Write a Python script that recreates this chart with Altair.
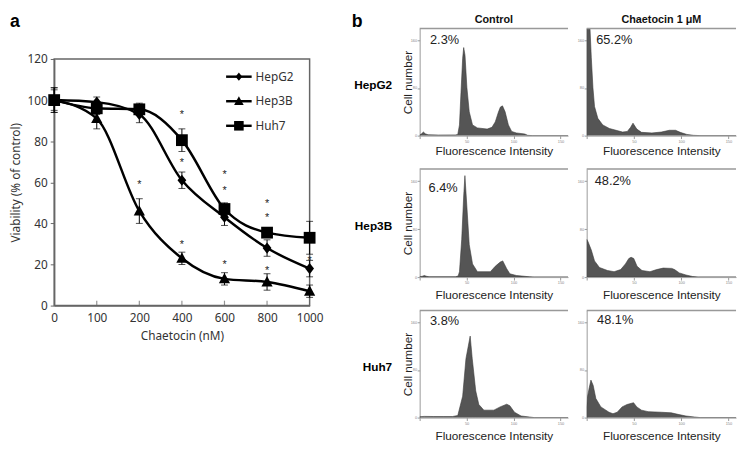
import altair as alt
import pandas as pd

# ---------------- Panel a data ----------------
doses = ["0", "100", "200", "400", "600", "800", "1000"]
series_names = ["HepG2", "Hep3B", "Huh7"]
hepg2 = [100, 99, 93, 61, 43, 28, 18]
hepg2_err = [6, 2.5, 4, 4, 4, 4, 4]
hep3b = [100, 91, 46, 23, 13, 11.5, 7]
hep3b_err = [6, 5, 6, 3, 3, 4, 3]
huh7 = [100, 96, 95.5, 80.5, 47, 35.5, 33]
huh7_err = [5, 3, 3, 5.5, 3, 2, 8]
star_dose = ["200", "400", "400", "400", "600", "600", "600", "800", "800", "800", "1000"]
star_val = [60, 94, 71, 31, 65, 57, 21, 51, 44, 18, 23]
y_ticks_a = [0, 20, 40, 60, 80, 100, 120]

# ---------------- Panel b data (flow cytometry histograms) ----------------
fi_ticks = [0, 12.5, 25, 37.5, 50, 62.5, 75, 87.5, 100, 112.5, 125, 137.5, 150]
count_ticks = [0, 20, 40, 60, 80, 100, 120, 140, 160, 180]

hepg2_ctrl_x = [0, 2, 4, 6, 9, 20, 38, 40.6, 42.4, 44, 45.8, 46.9, 48.3, 50.3, 52.8, 56.3, 61.5, 71.9, 77, 80.5,
                84, 86, 88.2, 91, 94.5, 98, 103, 112, 115, 120, 158]
hepg2_ctrl_y = [1, 3, 6, 3, 1.5, 1, 1.2, 2, 18, 72, 130, 148, 135, 81, 40, 18, 13, 11, 14, 23,
                40, 48, 50, 40, 18, 7, 4.5, 2.7, 0.5, 0, 0]
hepg2_chae_x = [0, 1, 3, 4.9, 6.6, 8.3, 11.8, 17, 24, 31, 38, 43, 46.5, 49, 53, 58, 69, 79, 87.5, 94,
                99, 106, 113, 120, 158]
hepg2_chae_y = [234, 234, 198, 131, 81, 49, 29, 18, 12, 9, 6, 7, 14, 21, 11, 5.5, 4.5, 6, 9, 9,
                5.5, 2, 0.5, 0, 0]
hep3b_ctrl_x = [0, 3, 5, 7, 10, 38, 41, 42.4, 44.8, 46.9, 48.2, 50.3, 52.8, 56.3, 61.5, 75.3, 80.5, 85.8,
                88.5, 92.7, 96, 103, 117, 122, 158]
hep3b_ctrl_y = [0.5, 1.5, 2.7, 1.5, 0.5, 0.5, 1.8, 9, 63, 135, 169, 117, 54, 22, 9, 9, 18, 25,
                27, 14, 5.5, 2.7, 0.5, 0, 0]
hep3b_chae_x = [0, 1.4, 4.9, 8.3, 13.5, 22, 29, 36, 41, 44.6, 47, 49.8, 53.3, 58.5, 67, 74, 81, 90, 93,
                98, 105, 112, 118, 158]
hep3b_chae_y = [63, 59, 45, 27, 16, 11, 9, 12.5, 22, 31, 33, 31, 18, 11, 9, 12.5, 15, 14.5, 12.5,
                7, 3.5, 1, 0, 0]
huh7_ctrl_x = [0, 5, 15, 25, 35, 40.6, 45.8, 49.3, 53.8, 56, 59.7, 63, 68.4, 79, 85.7, 92.7, 96, 101,
               108, 117, 122, 158]
huh7_ctrl_y = [1.5, 2, 1.8, 1.8, 1.8, 3.5, 36, 99, 137, 99, 45, 22, 12.5, 12.5, 18, 22.5, 20, 9,
               2.7, 1, 0, 0]
huh7_chae_x = [0, 1, 2.7, 4.5, 6.9, 9.7, 15, 23.6, 27.8, 32.3, 37.5, 42.7, 49.6, 53, 58, 65, 79, 89.5,
               96.4, 105, 114, 120, 158]
huh7_chae_y = [18, 36, 50, 63, 54, 32, 18, 9, 6.5, 9, 18, 22, 25, 18, 12.5, 10, 9, 8, 5.5, 2.7,
               1, 0, 0]

pct_labels = ["2.3%", "65.2%", "6.4%", "48.2%", "3.8%", "48.1%"]
pct_x = [11, 10, 9.5, 8.5, 11, 11]
pct_y = [160, 160, 149, 160, 162, 164]
row_labels = ["HepG2", "Hep3B", "Huh7"]
col_titles = ["Control", "Chaetocin 1 \u03bcM"]

FONT_A = "Noto Sans"
FONT_B = "Liberation Sans"

# ---------------- Panel a ----------------
rows = []
for name, vals, errs in zip(series_names, [hepg2, hep3b, huh7], [hepg2_err, hep3b_err, huh7_err]):
    for i, (d, v, e) in enumerate(zip(doses, vals, errs)):
        rows.append(dict(series=name, dose=d, idx=i, value=v, lo=v - e, hi=v + e))
df_a = pd.DataFrame(rows)
df_star = pd.DataFrame({"dose": star_dose, "val": star_val})
df_xt = pd.DataFrame({"dose": doses[1:-1]})

marker_paths = [
    "M0,-0.95L0.75,0L0,0.95L-0.75,0Z",
    "M0,-1L0.95,0.75L-0.95,0.75Z",
    "M-1,-1H1V1H-1Z",
]
legend_marker_sizes = [80, 105, 95]

x_a = alt.X("dose:O", sort=doses, scale=alt.Scale(type="point", padding=0),
            axis=alt.Axis(labelAngle=0, ticks=False, labelPadding=7, titlePadding=8,
                          title="Chaetocin (nM)", labelFont=FONT_A, titleFont=FONT_A,
                          labelFontSize=12, titleFontSize=12, titleFontWeight="normal",
                          labelColor="#333", titleColor="#333", domainColor="#666",
                          domainWidth=1.5))
y_scale_a = alt.Scale(domain=[0, 120], nice=False)
y_a = alt.Y("value:Q", scale=y_scale_a,
            axis=alt.Axis(values=y_ticks_a, title="Viability (% of control)", titlePadding=5,
                          labelFont=FONT_A, titleFont=FONT_A, labelFontSize=12, titleFontSize=12,
                          titleFontWeight="normal", labelColor="#333", titleColor="#333",
                          tickSize=4, labelPadding=3, grid=False, domainColor="#666",
                          tickColor="#666", domainWidth=1.5))

base = alt.Chart(df_a).encode(x=x_a)
err_rule = base.mark_rule(color="black", strokeWidth=1).encode(
    y=alt.Y("lo:Q", scale=y_scale_a), y2="hi:Q", detail="series:N")
cap_lo = base.mark_tick(orient="horizontal", color="black", thickness=1, size=7).encode(
    y=alt.Y("lo:Q", scale=y_scale_a))
cap_hi = base.mark_tick(orient="horizontal", color="black", thickness=1, size=7).encode(
    y=alt.Y("hi:Q", scale=y_scale_a))
line = base.mark_line(interpolate="monotone", color="black", strokeWidth=2.5).encode(
    y=y_a, detail="series:N", order="idx:Q")
points = base.mark_point(filled=True, size=144, color="black", opacity=1, strokeWidth=0).encode(
    y=alt.Y("value:Q", scale=y_scale_a),
    shape=alt.Shape("series:N", scale=alt.Scale(domain=series_names, range=marker_paths),
                    legend=None))
stars = alt.Chart(df_star).mark_text(text="*", fontSize=11, color="#222", dy=3).encode(
    x=alt.X("dose:O", sort=doses), y=alt.Y("val:Q", scale=y_scale_a))
xticks_in = alt.Chart(df_xt).mark_tick(orient="vertical", size=5, thickness=1.2, color="#666",
                                       yOffset=-2.5).encode(
    x=alt.X("dose:O", sort=doses), y=alt.datum(0))
label_a = alt.Chart(pd.DataFrame({"t": ["a"]})).mark_text(
    fontSize=18, fontWeight="bold", align="left", baseline="middle", font="Liberation Sans",
    color="black").encode(text="t:N", x=alt.value(-45), y=alt.value(-38))

# in-plot legend: line stub + marker + label for each series
legend_layers = []
for i, name in enumerate(series_names):
    ly = 18 + 25 * i
    src = alt.Chart(pd.DataFrame({"t": [name]}))
    legend_layers.append(src.mark_rule(color="black", strokeWidth=2.5).encode(
        x=alt.value(175), x2=alt.value(201), y=alt.value(ly)))
    legend_layers.append(src.mark_point(shape=marker_paths[i], size=legend_marker_sizes[i], filled=True,
                                        color="black", opacity=1, strokeWidth=0).encode(
        x=alt.value(188), y=alt.value(ly)))
    legend_layers.append(src.mark_text(align="left", baseline="middle", fontSize=12, font=FONT_A,
                                       color="#333").encode(
        text="t:N", x=alt.value(205), y=alt.value(ly)))

panel_a = alt.layer(line, err_rule, cap_lo, cap_hi, points, stars, xticks_in, label_a,
                    *legend_layers).properties(
    width=260, height=251, view=alt.ViewBackground(stroke="#666", strokeWidth=1.5))

# empty spacer that lowers panel a relative to the first row of panel b
spacer = alt.Chart(pd.DataFrame({"t": [0]})).mark_point(opacity=0).encode(
    x=alt.value(0), y=alt.value(0)).properties(width=260, height=31)
panel_a_wrapped = alt.vconcat(spacer, panel_a, spacing=0, bounds="flush")


# ---------------- Panel b ----------------
def make_hist(xs, ys, k, ctrl, row, height, width):
    df_h = pd.DataFrame({"fi": xs, "count": ys})
    x_h = alt.X("fi:Q", scale=alt.Scale(domain=[0, 158], nice=False),
                axis=alt.Axis(values=fi_ticks,
                              labelExpr="datum.value % 50 === 0 && datum.value > 0 ? datum.label : ''",
                              labelFontSize=4, labelColor="#888", tickSize=3, tickColor="#999",
                              domainColor="#999", labelPadding=1, title="Fluorescence Intensity",
                              titleFontSize=12, titleFont=FONT_B, titleFontWeight="normal",
                              titleColor="#222", titlePadding=2 if row == 0 else 5, grid=False))
    yax = dict(values=count_ticks, labelFontSize=4, labelColor="#888", tickSize=2.5, tickColor="#999",
               domainColor="#999", labelPadding=0.5, grid=False)
    if ctrl:
        yax.update(title="Cell number", titleFontSize=12, titleFont=FONT_B, titleFontWeight="normal",
                   titleColor="#222", titlePadding=-4)
    else:
        yax.update(title=None)
    y_h = alt.Y("count:Q", scale=alt.Scale(domain=[0, 180], nice=False), axis=alt.Axis(**yax))
    area = alt.Chart(df_h).mark_area(fill="#555", stroke="#3a3a3a", strokeWidth=0.6, clip=True,
                                     interpolate="linear").encode(x=x_h, y=y_h)
    top = alt.Chart(pd.DataFrame({"c": [180]})).mark_rule(color="#999", strokeWidth=1.5).encode(
        y=alt.Y("c:Q"))
    pct = alt.Chart(pd.DataFrame({"fi": [pct_x[k]], "count": [pct_y[k]], "t": [pct_labels[k]]})).mark_text(
        align="left", baseline="middle", fontSize=13, font=FONT_B, color="#222").encode(
        x="fi:Q", y="count:Q", text="t:N")
    layers = [area, top, pct]
    if row == 0:
        ct = alt.Chart(pd.DataFrame({"t": [col_titles[0 if ctrl else 1]]})).mark_text(
            align="center", baseline="middle", fontSize=11, fontWeight="bold", font=FONT_B,
            color="#111").encode(text="t:N", x=alt.value(width / 2), y=alt.value(-9))
        layers.append(ct)
    if ctrl:
        rl = alt.Chart(pd.DataFrame({"t": [row_labels[row]]})).mark_text(
            align="right", baseline="middle", fontSize=12, fontWeight="bold", font=FONT_B,
            color="black").encode(text="t:N", x=alt.value(-28), y=alt.datum(85))
        layers.append(rl)
        if row == 0:
            lb = alt.Chart(pd.DataFrame({"t": ["b"]})).mark_text(
                align="left", baseline="middle", fontSize=18, fontWeight="bold", font=FONT_B,
                color="black").encode(text="t:N", x=alt.value(-69), y=alt.value(-7))
            layers.append(lb)
    return alt.layer(*layers).properties(width=width, height=height)


hist_data = [
    (hepg2_ctrl_x, hepg2_ctrl_y), (hepg2_chae_x, hepg2_chae_y),
    (hep3b_ctrl_x, hep3b_ctrl_y), (hep3b_chae_x, hep3b_chae_y),
    (huh7_ctrl_x, huh7_ctrl_y), (huh7_chae_x, huh7_chae_y),
]
heights = [109, 110, 109]
cells = []
for k, (xs, ys) in enumerate(hist_data):
    row = k // 2
    ctrl = k % 2 == 0
    cells.append(make_hist(xs, ys, k, ctrl, row, heights[row], 151 if ctrl else 152))

panel_b = alt.concat(*cells, columns=2, spacing={"row": 34, "column": 19}, bounds="flush")

chart = alt.hconcat(panel_a_wrapped, panel_b, spacing=28).properties(
    padding={"left": 0, "top": 0, "right": 0, "bottom": 0}
).configure(font=FONT_B).configure_view(strokeWidth=0)

chart.save("out.html", embed_options={"renderer": "svg", "actions": False})
